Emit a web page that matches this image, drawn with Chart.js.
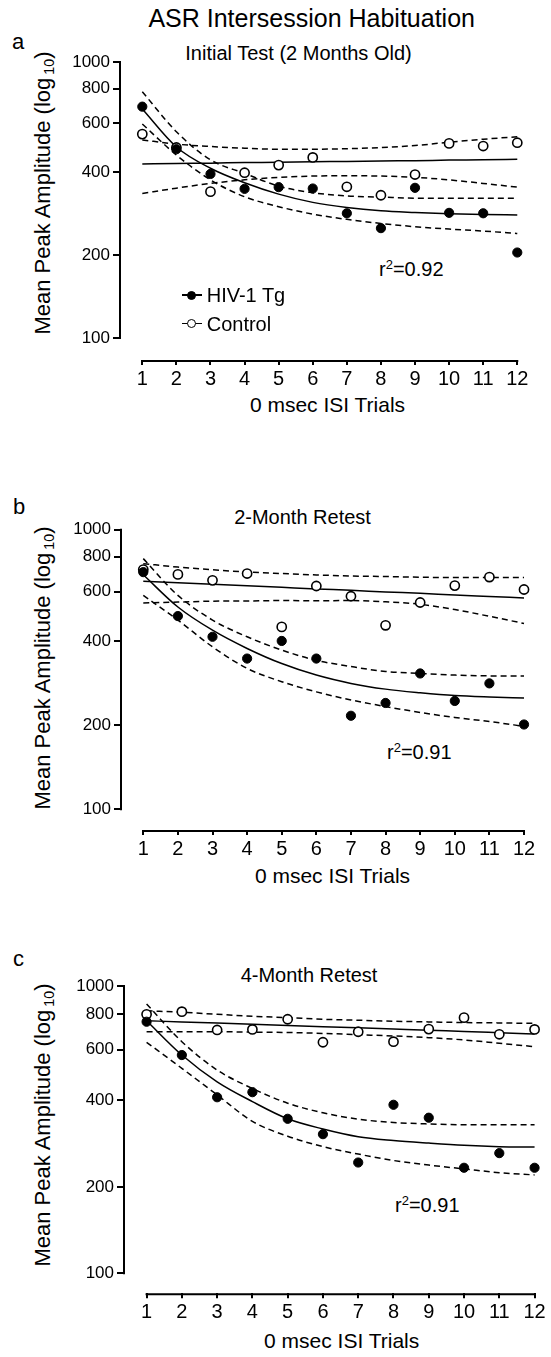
<!DOCTYPE html>
<html>
<head>
<meta charset="utf-8">
<script src="https://cdn.jsdelivr.net/npm/chart.js@4.4.1/dist/chart.umd.min.js"></script>
<style>
html,body{margin:0;padding:0;background:#fff;}
body{width:551px;height:1357px;position:relative;overflow:hidden;font-family:'Liberation Sans',Arial,Helvetica,sans-serif;color:#000;}
canvas{position:absolute;left:0;}
.t{position:absolute;white-space:nowrap;line-height:1;}
.c{transform:translateX(-50%);}
.yt{position:absolute;white-space:nowrap;line-height:1;font-size:22px;transform:translate(-50%,-50%) rotate(-90deg);}
.sb{font-size:0.65em;position:relative;top:0.3em;margin-left:3px;}
.sp{font-size:0.65em;position:relative;top:-0.55em;}
.ln{position:absolute;height:1.5px;width:20px;background:#000;}
.dot{position:absolute;width:9px;height:9px;border-radius:50%;box-sizing:border-box;border:1.5px solid #000;}
</style>
</head>
<body>
<!-- data -->
<script>
const trials = [1, 2, 3, 4, 5, 6, 7, 8, 9, 10, 11, 12];
const yTicks = [100, 200, 400, 600, 800, 1000];

// Panel a: Initial Test (2 Months Old)
const aHiv      = [689, 483, 393, 347, 352, 348, 283, 250, 350, 284, 283, 204];
const aCtrl     = [548, 490, 339, 397, 423, 451, 353, 329, 391, 507, 496, 510];
const aHivFit   = [675, 492, 412, 365, 332, 310, 297, 289, 285, 282, 280, 279];
const aHivUp    = [780, 559, 442, 395, 355, 336, 327, 324, 321, 321, 321, 321];
const aHivLo    = [596, 460, 374, 325, 299, 281, 269, 260, 253, 248, 244, 239];
const aCtrlFit  = [427, 429, 430, 432, 433, 435, 436, 438, 439, 441, 442, 444];
const aCtrlUp   = [522, 504, 494, 487, 483, 483, 485, 490, 498, 512, 525, 536];
const aCtrlLo   = [334, 349, 363, 374, 382, 386, 387, 386, 382, 374, 363, 352];

// Panel b: 2-Month Retest
const bHiv      = [705, 491, 414, 346, 400, 346, 216, 240, 306, 244, 282, 201];
const bCtrl     = [720, 692, 659, 697, 449, 629, 578, 455, 549, 631, 677, 611];
const bHivFit   = [690, 529, 437, 376, 332, 302, 282, 269, 261, 255, 252, 250];
const bHivUp    = [788, 582, 475, 414, 371, 341, 324, 311, 306, 302, 300, 300];
const bHivLo    = [582, 475, 381, 319, 286, 263, 246, 233, 222, 213, 206, 198];
const bCtrlFit  = [654, 646, 638, 630, 622, 614, 607, 599, 592, 584, 577, 570];
const bCtrlUp   = [756, 735, 719, 706, 697, 689, 683, 680, 676, 674, 674, 674];
const bCtrlLo   = [547, 551, 555, 556, 558, 557, 558, 552, 541, 518, 490, 462];

// Panel c: 4-Month Retest
const cHiv      = [751, 575, 410, 427, 345, 305, 243, 386, 348, 233, 262, 233];
const cCtrl     = [797, 814, 703, 706, 766, 637, 693, 640, 708, 776, 679, 706];
const cHivFit   = [757, 575, 464, 396, 345, 318, 299, 290, 284, 279, 276, 275];
const cHivUp    = [866, 640, 510, 440, 391, 362, 344, 335, 331, 329, 329, 329];
const cHivLo    = [637, 517, 418, 338, 300, 276, 260, 247, 238, 231, 224, 220];
const cCtrlFit  = [757, 750, 743, 736, 729, 722, 715, 708, 701, 695, 688, 681];
const cCtrlUp   = [820, 810, 797, 785, 776, 766, 760, 754, 750, 746, 744, 741];
const cCtrlLo   = [693, 693, 693, 691, 689, 684, 677, 670, 661, 649, 632, 615];
</script>

<div class="t c" style="left:311.7px;top:5.8px;font-size:25px;">ASR Intersession Habituation</div>

<div class="t" style="left:12px;top:31.4px;font-size:22px;">a</div>
<div class="t c" style="left:298.5px;top:43px;font-size:20px;">Initial Test (2 Months Old)</div>
<div class="yt" style="left:42.5px;top:193px;">Mean Peak Amplitude (log<span class="sb">10</span>)</div>
<div class="t" style="left:379px;top:259px;font-size:20px;">r<span class="sp">2</span>=0.92</div>
<div class="t c" style="left:327.5px;top:394px;font-size:21px;">0 msec ISI Trials</div>

<div class="t" style="left:13px;top:496.4px;font-size:22px;">b</div>
<div class="t c" style="left:302.5px;top:507px;font-size:20px;">2-Month Retest</div>
<div class="yt" style="left:42.5px;top:668px;">Mean Peak Amplitude (log<span class="sb">10</span>)</div>
<div class="t" style="left:387px;top:742px;font-size:20px;">r<span class="sp">2</span>=0.91</div>
<div class="t c" style="left:332.5px;top:865px;font-size:21px;">0 msec ISI Trials</div>

<div class="t" style="left:13px;top:948.4px;font-size:22px;">c</div>
<div class="t c" style="left:309px;top:965px;font-size:20px;">4-Month Retest</div>
<div class="yt" style="left:42.5px;top:1125px;">Mean Peak Amplitude (log<span class="sb">10</span>)</div>
<div class="t" style="left:395px;top:1195px;font-size:20px;">r<span class="sp">2</span>=0.91</div>
<div class="t c" style="left:341.7px;top:1329.5px;font-size:21px;">0 msec ISI Trials</div>

<canvas id="ca" width="551" height="400" style="top:0px"></canvas>
<canvas id="cb" width="551" height="410" style="top:460px"></canvas>
<canvas id="cc" width="551" height="413" style="top:920px"></canvas>

<!-- legend (panel a) -->
<div class="ln" style="left:181.7px;top:294.3px;"></div>
<div class="dot" style="left:187.2px;top:290.5px;background:#000;"></div>
<div class="t" style="left:206.7px;top:285.2px;font-size:20px;">HIV-1 Tg</div>
<div class="ln" style="left:181.7px;top:322.6px;"></div>
<div class="dot" style="left:187.2px;top:318.8px;background:#fff;"></div>
<div class="t" style="left:206.7px;top:313.6px;font-size:20px;">Control</div>

<script>
Chart.defaults.font.family = "'Liberation Sans', Arial, Helvetica, sans-serif";
Chart.defaults.color = '#000';

const toXY = arr => arr.map((v, i) => ({x: trials[i], y: v}));

const axisLines = {
  id: 'axisLines',
  afterDraw(chart) {
    const {ctx, chartArea, scales} = chart;
    const x = scales.x, y = scales.y;
    ctx.save();
    ctx.strokeStyle = '#000';
    ctx.lineWidth = 2;
    ctx.beginPath();
    const ax = chartArea.left - 1;
    ctx.moveTo(ax, y.getPixelForValue(yTicks[0]) + 1);
    ctx.lineTo(ax, y.getPixelForValue(yTicks[yTicks.length - 1]) - 1);
    const ay = chartArea.bottom + 1;
    ctx.moveTo(x.getPixelForValue(trials[0]) - 1, ay);
    ctx.lineTo(x.getPixelForValue(trials[trials.length - 1]) + 1, ay);
    ctx.stroke();
    ctx.restore();
  }
};

function lineDs(arr, dashed) {
  return {
    data: toXY(arr), showLine: true, pointRadius: 0, pointHoverRadius: 0,
    borderColor: '#000', borderWidth: 1.5, borderDash: dashed ? [6, 4] : [],
    cubicInterpolationMode: 'monotone', fill: false, clip: false
  };
}

function makePanel(id, L, d) {
  const xHeight = L.h - (L.axisBottom - L.top);
  return new Chart(document.getElementById(id), {
    type: 'scatter',
    data: {
      datasets: [
        {data: toXY(d.hiv), pointRadius: 4.6, pointBackgroundColor: '#000', pointBorderColor: '#000', pointBorderWidth: 1, clip: false},
        {data: toXY(d.ctrl), pointRadius: 4.6, pointBackgroundColor: '#fff', pointBorderColor: '#000', pointBorderWidth: 1.6, clip: false},
        lineDs(d.hivFit, false), lineDs(d.hivUp, true), lineDs(d.hivLo, true),
        lineDs(d.ctrlFit, false), lineDs(d.ctrlUp, true), lineDs(d.ctrlLo, true)
      ]
    },
    options: {
      responsive: false, animation: false, devicePixelRatio: 1, events: [],
      layout: {padding: {left: 0, right: 551 - L.right, top: L.axisTop - L.top, bottom: 0}},
      plugins: {legend: {display: false}, tooltip: {enabled: false}, title: {display: false}},
      scales: {
        x: {
          type: 'linear', position: 'bottom', min: L.xMin, max: L.xMax, bounds: 'data',
          afterBuildTicks: s => { s.ticks = trials.map(v => ({value: v})); },
          afterFit: s => { s.height = xHeight; },
          grid: {drawOnChartArea: false, drawTicks: true, tickLength: 5, color: '#000', lineWidth: 2},
          border: {display: false},
          ticks: {color: '#000', font: {size: 20}, padding: 2, maxRotation: 0, autoSkip: false, callback: v => String(v)}
        },
        y: {
          type: 'logarithmic', position: 'left', min: L.yMin, max: 1000, bounds: 'data',
          afterBuildTicks: s => { s.ticks = yTicks.map(v => ({value: v})); },
          afterFit: s => { s.width = L.left; },
          grid: {drawOnChartArea: false, drawTicks: true, tickLength: 8, color: '#000', lineWidth: 2},
          border: {display: false},
          ticks: {color: '#000', font: {size: 17}, padding: 3, autoSkip: false, callback: v => String(v)}
        }
      }
    },
    plugins: [axisLines]
  });
}

makePanel('ca',
  {top: 0, h: 400, axisTop: 62, axisBottom: 360, left: 121, right: 530, xMin: 0.375, xMax: 12.373, yMin: 83.2},
  {hiv: aHiv, ctrl: aCtrl, hivFit: aHivFit, hivUp: aHivUp, hivLo: aHivLo, ctrlFit: aCtrlFit, ctrlUp: aCtrlUp, ctrlLo: aCtrlLo});
makePanel('cb',
  {top: 460, h: 410, axisTop: 529.7, axisBottom: 830, left: 122, right: 540, xMin: 0.385, xMax: 12.462, yMin: 84.3},
  {hiv: bHiv, ctrl: bCtrl, hivFit: bHivFit, hivUp: bHivUp, hivLo: bHivLo, ctrlFit: bCtrlFit, ctrlUp: bCtrlUp, ctrlLo: bCtrlLo});
makePanel('cc',
  {top: 920, h: 413, axisTop: 986, axisBottom: 1293.3, left: 125, right: 547, xMin: 0.388, xMax: 12.29, yMin: 85.2},
  {hiv: cHiv, ctrl: cCtrl, hivFit: cHivFit, hivUp: cHivUp, hivLo: cHivLo, ctrlFit: cCtrlFit, ctrlUp: cCtrlUp, ctrlLo: cCtrlLo});
</script>
</body>
</html>
